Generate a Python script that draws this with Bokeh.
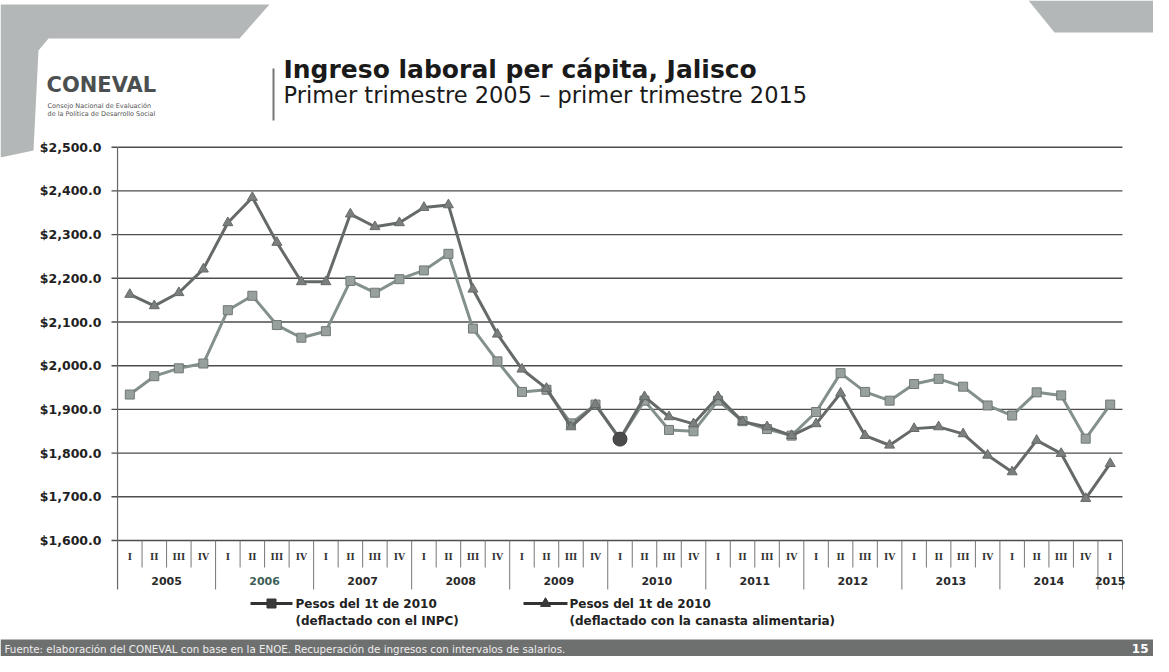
from bokeh.plotting import figure
from bokeh.models import Range1d
from bokeh.core.properties import value
from bokeh.embed import file_html
from bokeh.resources import INLINE

# ---------------- data ----------------
years = ["2005", "2006", "2007", "2008", "2009", "2010", "2011", "2012", "2013", "2014", "2015"]
quarter_labels = ["I", "II", "III", "IV"]
# Pesos del 1t de 2010 (deflactado con el INPC)
inpc = [1934, 1976, 1994, 2005,
        2127, 2160, 2093, 2064,
        2079, 2194, 2167, 2198,
        2218, 2256, 2085, 2010,
        1940, 1945, 1868, 1911,
        1832, 1920, 1853, 1850,
        1920, 1873, 1855, 1840,
        1894, 1983, 1940, 1920,
        1958, 1970, 1952, 1909,
        1886, 1939, 1932, 1833,
        1911]
# Pesos del 1t de 2010 (deflactado con la canasta alimentaria)
canasta = [2163, 2137, 2167, 2221,
           2327, 2385, 2282, 2192,
           2192, 2347, 2318, 2327,
           2362, 2368, 2175, 2072,
           1992, 1948, 1860, 1911,
           1832, 1929, 1883, 1867,
           1929, 1872, 1860, 1840,
           1867, 1937, 1840, 1818,
           1856, 1860, 1844, 1795,
           1757, 1829, 1799, 1696,
           1776]
y_ticks = [1600, 1700, 1800, 1900, 2000, 2100, 2200, 2300, 2400, 2500]
y_tick_labels = ["$1,600.0", "$1,700.0", "$1,800.0", "$1,900.0", "$2,000.0",
                 "$2,100.0", "$2,200.0", "$2,300.0", "$2,400.0", "$2,500.0"]
base_quarter = 20  # 1t de 2010
title = "Ingreso laboral per cápita, Jalisco"
subtitle = "Primer trimestre 2005 \u2013 primer trimestre 2015"
legend_1 = ["Pesos del 1t de 2010", "(deflactado con el INPC)"]
legend_2 = ["Pesos del 1t de 2010", "(deflactado con la canasta alimentaria)"]
source_note = ("Fuente: elaboración del CONEVAL con base en la ENOE. "
               "Recuperación de ingresos con intervalos de salarios.")
page_number = "15"

# ---------------- layout helpers (page pixels -> data space) ----------------
W, H = 1153, 656
X0, DX = 137.3, 24.51      # page x of first quarter, px per quarter
Y0, DY = 548.0, 0.437      # page y of $1,600, px per peso
YMIN = y_ticks[0]


def fx(px):
    return (px - X0) / DX


def fy(py):
    return YMIN + (Y0 - py) / DY


FONT = value("DejaVu Sans")
SERIF = value("DejaVu Serif")

p = figure(width=W, height=H, output_backend="svg", toolbar_location=None,
           x_range=Range1d(fx(8), fx(8 + W)), y_range=Range1d(fy(8 + H), fy(8)),
           x_axis_type=None, y_axis_type=None, min_border=0,
           outline_line_color=None, background_fill_color="white",
           border_fill_color="white")
p.grid.visible = False

n = len(inpc)
xs = list(range(n))
left_edge, right_edge = -0.5, n - 0.5

# decorative header shapes
deco = "#b3b7b7"
p.patch(x=[fx(v) for v in [8, 277, 247, 56, 46, 41, 8]],
        y=[fy(v) for v in [12, 12, 46, 46, 58, 158, 165]],
        fill_color=deco, line_color=None)
p.patch(x=[fx(v) for v in [1036, 1161, 1161, 1062]],
        y=[fy(v) for v in [8, 8, 40, 40]],
        fill_color=deco, line_color=None)

# logo
p.text(x=[fx(54)], y=[fy(92)], text=["CONEVAL"], text_font=FONT, text_font_style="bold",
       text_font_size="21px", text_color="#4b4f4f", text_baseline="middle")
p.text(x=[fx(55), fx(55)], y=[fy(113), fy(121)],
       text=["Consejo Nacional de Evaluación", "de la Política de Desarrollo Social"],
       text_font=FONT, text_font_size="6.5px", text_color="#555555", text_baseline="middle")
p.segment(x0=[fx(281)], y0=[fy(76)], x1=[fx(281)], y1=[fy(128)], line_color="#777777", line_width=2)

# titles
p.text(x=[fx(291)], y=[fy(77)], text=[title], text_font=FONT, text_font_style="bold",
       text_font_size="25px", text_color="#1a1a1a", text_baseline="middle")
p.text(x=[fx(291)], y=[fy(102)], text=[subtitle], text_font=FONT,
       text_font_size="22.5px", text_color="#1a1a1a", text_baseline="middle")

# gridlines and y axis
p.segment(x0=[left_edge] * len(y_ticks), y0=y_ticks, x1=[right_edge] * len(y_ticks), y1=y_ticks,
          line_color="#4d4d4d", line_width=1.4)
p.segment(x0=[fx(119)] * len(y_ticks), y0=y_ticks, x1=[left_edge] * len(y_ticks), y1=y_ticks,
          line_color="#4d4d4d", line_width=1.4)
p.segment(x0=[left_edge], y0=[fy(597)], x1=[left_edge], y1=[y_ticks[-1]],
          line_color="#666666", line_width=1.2)
p.text(x=[fx(109)] * len(y_ticks), y=y_ticks, text=y_tick_labels, text_font=FONT,
       text_font_style="bold", text_font_size="12.5px", text_color="#222222",
       text_align="right", text_baseline="middle")

# category table under the plot
sep_x, sep_y1 = [], []
for k in range(1, n + 1):
    sep_x.append(k - 0.5)
    long_sep = (k % 4 == 0) or (k == n)
    sep_y1.append(fy(597) if long_sep else fy(575))
p.segment(x0=sep_x, y0=[YMIN] * len(sep_x), x1=sep_x, y1=sep_y1,
          line_color="#777777", line_width=1)
p.text(x=xs, y=[fy(564)] * n, text=[quarter_labels[i % 4] for i in xs], text_font=SERIF,
       text_font_style="bold", text_font_size="9px", text_color="#333333",
       text_align="center", text_baseline="middle")
year_x = [min(4 * j + 1.5, n - 1) for j in range(len(years))]
year_colors = ["#3e5f57" if y == "2006" else "#2a2a2a" for y in years]
p.text(x=year_x, y=[fy(588)] * len(years), text=years, text_font=FONT,
       text_font_style="bold", text_font_size="11px", text_color=year_colors,
       text_align="center", text_baseline="middle")

# series
c_inpc_line, c_inpc_fill = "#84908d", "#98a09d"
c_can_line, c_can_fill = "#656a69", "#7b807f"
p.line(xs, inpc, line_color=c_inpc_line, line_width=3)
p.scatter(xs, inpc, marker="square", size=9, fill_color=c_inpc_fill,
          line_color="#6f7875", line_width=1)
p.line(xs, canasta, line_color=c_can_line, line_width=3)
p.scatter(xs, canasta, marker="triangle", size=10, fill_color=c_can_fill,
          line_color=c_can_line, line_width=1)
p.scatter([base_quarter], [inpc[base_quarter]], marker="circle", size=14,
          fill_color="#4a4a4a", line_color="#3a3a3a")

# legend
ly1, ly2 = fy(611), fy(628)
p.segment(x0=[fx(258), fx(531)], y0=[ly1, ly1], x1=[fx(300), fx(575)], y1=[ly1, ly1],
          line_color="#333333", line_width=3)
p.scatter([fx(279)], [ly1], marker="square", size=9, fill_color="#3a3a3a", line_color="#333333")
p.scatter([fx(553)], [ly1], marker="triangle", size=10, fill_color="#3a3a3a", line_color="#333333")
p.text(x=[fx(303), fx(303)], y=[ly1, ly2], text=legend_1, text_font=FONT, text_font_style="bold",
       text_font_size="12px", text_color="#222222", text_baseline="middle")
p.text(x=[fx(577), fx(577)], y=[ly1, ly2], text=legend_2, text_font=FONT, text_font_style="bold",
       text_font_size="12px", text_color="#222222", text_baseline="middle")

# footer bar
p.quad(left=[fx(8)], right=[fx(8 + W)], bottom=[fy(8 + H)], top=[fy(647)],
       fill_color="#6e7070", line_color=None)
p.text(x=[fx(12)], y=[fy(656)], text=[source_note], text_font=FONT, text_font_size="10.3px",
       text_color="#eeeeee", text_baseline="middle")
p.text(x=[fx(1156)], y=[fy(656)], text=[page_number], text_font=FONT, text_font_style="bold",
       text_font_size="12px", text_color="#ffffff", text_align="right", text_baseline="middle")

open("out.html", "w").write(file_html(p, INLINE))
